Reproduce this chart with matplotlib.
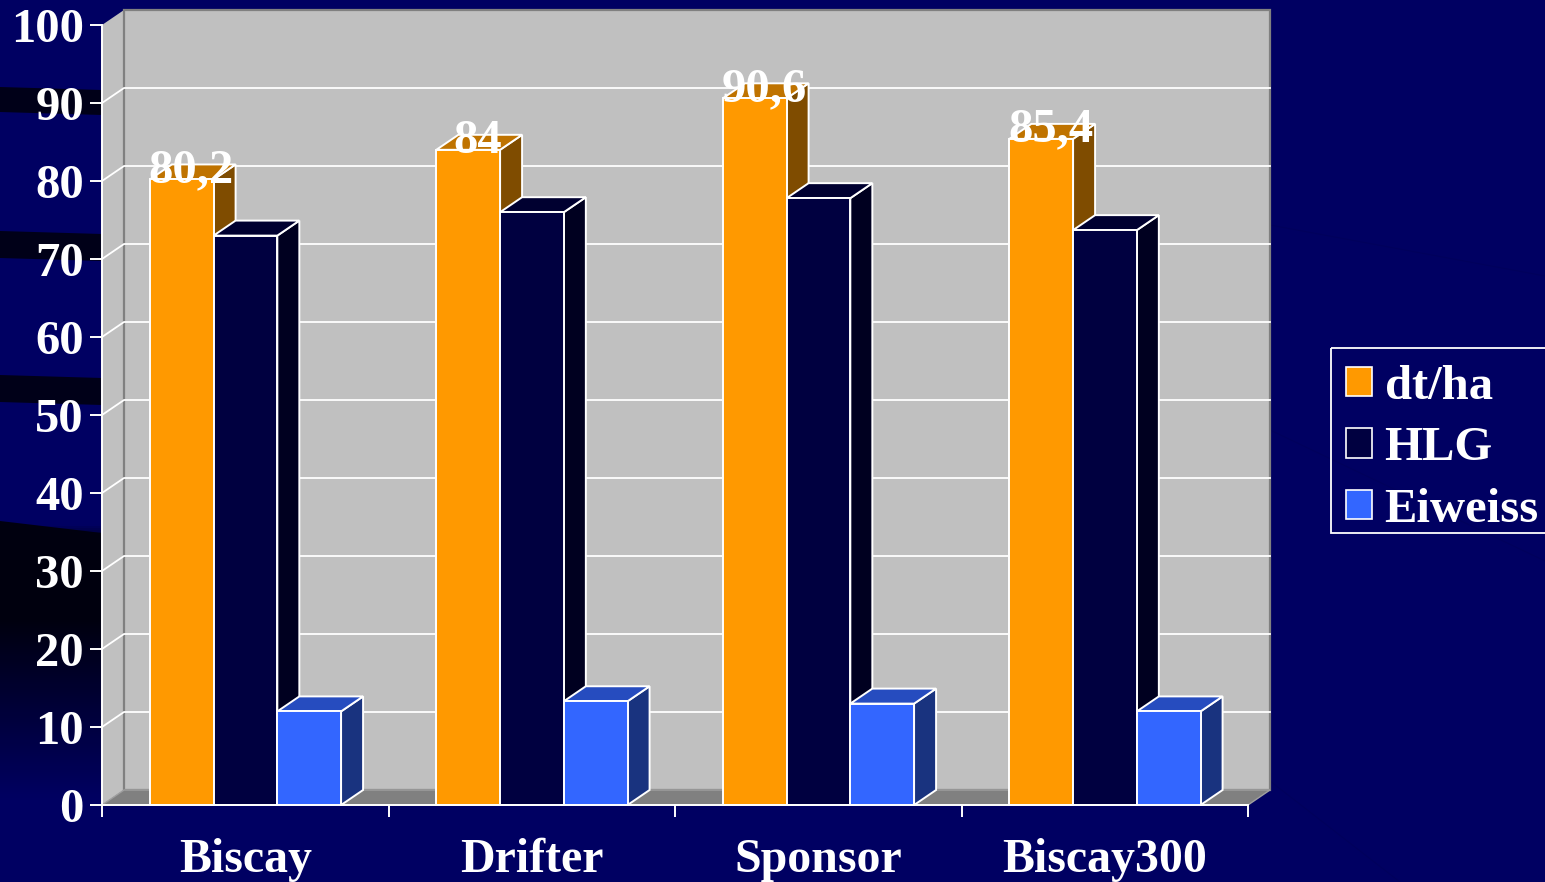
import numpy as np
import matplotlib
matplotlib.use("Agg")
import matplotlib.pyplot as plt
from matplotlib.patches import Patch, Polygon, Rectangle

plt.rcParams["font.family"] = ["Liberation Serif", "DejaVu Serif"]
plt.rcParams["font.weight"] = "bold"

categories = ["Biscay", "Drifter", "Sponsor", "Biscay300"]
series_names = ["dt/ha", "HLG", "Eiweiss"]
dt_ha = [80.2, 84, 90.6, 85.4]
hlg = [73, 76, 77.8, 73.7]
eiweiss = [12, 13.3, 13, 12]
dt_labels = ["80,2", "84", "90,6", "85,4"]
y_ticks = list(range(0, 101, 10))

front_colors = ["#ff9900", "#000040", "#3366ff"]
top_colors = ["#bf7300", "#000030", "#264cbf"]
side_colors = ["#7f4c00", "#000020", "#19337f"]
WHITE = "#ffffff"
WALL = "#c0c0c0"

W, H = 1545, 882
DEPTH_X = 22 / 286.5
DEPTH_Y = 15 / 7.8
BAR_W = 0.2225
BAR_START = 0.167


def draw_background(fig):
    bg = fig.add_axes([0, 0, 1, 1], zorder=0)
    bg.axis("off")
    yy, xx = np.mgrid[0:H:441j, 0:W:300j]
    # dark patch low on the left edge, fades out towards the bottom
    dark = np.interp(yy, [525, 545, 620, 800], [0, 0.85, 0.85, 0]) * np.clip((300 - xx) / 200, 0, 1)
    img = np.zeros((441, 300, 3))
    img[..., 2] = (0x62 / 255) * (1 - dark)
    bg.imshow(img, extent=(0, W, H, 0), aspect="auto", zorder=0)
    for y0, y1 in [(87, 112), (231, 258), (375, 402)]:
        bg.add_patch(Polygon([(0, y0), (102, y0 + 3), (102, y1 + 3), (0, y1)],
                             color="#000018", lw=0, zorder=1))
    bg.add_patch(Polygon([(0, 521), (102, 533), (102, 560), (0, 560)], color="#00000f", lw=0, zorder=1))
    for xs, ys in [((1270, 1545), (225, 276)), ((1270, 1545), (430, 561)), ((1270, 1400), (781, 882))]:
        bg.plot(xs, ys, color="#00005c", lw=0.8, zorder=1)
    bg.set_xlim(0, W)
    bg.set_ylim(H, 0)
    return bg


def draw_walls(ax):
    ax.add_patch(Polygon([(0, 0), (DEPTH_X, DEPTH_Y), (DEPTH_X, 100 + DEPTH_Y), (0, 100)],
                         fc=WALL, ec="none", zorder=1, clip_on=False))
    ax.add_patch(Polygon([(DEPTH_X, DEPTH_Y), (4 + DEPTH_X, DEPTH_Y),
                          (4 + DEPTH_X, 100 + DEPTH_Y), (DEPTH_X, 100 + DEPTH_Y)],
                         fc=WALL, ec="#808080", lw=1.6, zorder=1, clip_on=False))
    ax.add_patch(Polygon([(0, 0), (4, 0), (4 + DEPTH_X, DEPTH_Y), (DEPTH_X, DEPTH_Y)],
                         fc="#808080", ec="#a0a0a0", lw=1, zorder=1.5, clip_on=False))
    for tick in y_ticks[1:-1]:
        y_back = tick + DEPTH_Y
        ax.plot([0, DEPTH_X, 4 + DEPTH_X], [tick, y_back, y_back], color=WHITE, lw=1.3,
                zorder=2, clip_on=False)


def draw_bar(ax, x, value, idx, z):
    x1 = x + BAR_W
    style = dict(ec=WHITE, lw=1.4, joinstyle="miter", clip_on=False, zorder=z)
    ax.add_patch(Polygon([(x1, 0), (x1 + DEPTH_X, DEPTH_Y), (x1 + DEPTH_X, value + DEPTH_Y), (x1, value)],
                         fc=side_colors[idx], **style))
    ax.add_patch(Polygon([(x, value), (x1, value), (x1 + DEPTH_X, value + DEPTH_Y), (x + DEPTH_X, value + DEPTH_Y)],
                         fc=top_colors[idx], **style))
    ax.bar(x, value, BAR_W, align="edge", color=front_colors[idx], edgecolor=WHITE,
           linewidth=1.4, zorder=z, clip_on=False)


fig = plt.figure(figsize=(W / 100, H / 100), dpi=100, facecolor="#000062")
bg = draw_background(fig)

ax = fig.add_axes([102 / W, 1 - 805 / H, 1146 / W, 780 / H], zorder=2)
ax.patch.set_alpha(0)
ax.set_xlim(0, 4)
ax.set_ylim(0, 100)
draw_walls(ax)

all_series = [dt_ha, hlg, eiweiss]
for i in range(len(categories)):
    for s, values in enumerate(all_series):
        draw_bar(ax, i + BAR_START + s * BAR_W, values[i], s, 3 + i + s * 0.1)

for i, label in enumerate(dt_labels):
    x_mid = i + BAR_START + BAR_W / 2 + DEPTH_X / 2
    ax.annotate(label, (x_mid, dt_ha[i]), xytext=(-1, -2), textcoords="offset points",
                ha="center", va="baseline", color=WHITE, fontsize=35, fontweight="bold", zorder=10)

for side in ["top", "right"]:
    ax.spines[side].set_visible(False)
for side in ["left", "bottom"]:
    ax.spines[side].set_color(WHITE)
    ax.spines[side].set_linewidth(1.4)
    ax.spines[side].set_zorder(9)

ax.set_yticks(y_ticks)
ax.set_yticklabels([str(t) for t in y_ticks])
ax.tick_params(axis="y", colors=WHITE, length=8.5, width=1.4, labelsize=35, pad=4.5)
ax.set_xticks(range(5))
ax.set_xticklabels([])
ax.tick_params(axis="x", which="major", colors=WHITE, length=8.5, width=1.4)
ax.set_xticks(np.arange(len(categories)) + 0.5, minor=True)
ax.set_xticklabels(categories, minor=True)
ax.tick_params(axis="x", which="minor", colors=WHITE, length=0, labelsize=34.5, pad=24)

# frame is drawn apart from the legend, the text sits low in it
bg.add_patch(Rectangle((1331, 348), 240, 185, fc="none", ec=WHITE, lw=1.3, zorder=2))
handles = [Patch(fc=c, ec=WHITE, lw=1.2) for c in front_colors]
legend = fig.legend(handles, series_names, loc="upper left",
                    bbox_to_anchor=(1335 / W, 1 - 354 / H), borderaxespad=0,
                    fontsize=35, frameon=False, labelcolor=WHITE,
                    handlelength=0.55, handleheight=0.55, handletextpad=0.25,
                    labelspacing=0.36, borderpad=0.22)
legend.set_zorder(5)

fig.savefig("out.png", dpi=100)
plt.close()
